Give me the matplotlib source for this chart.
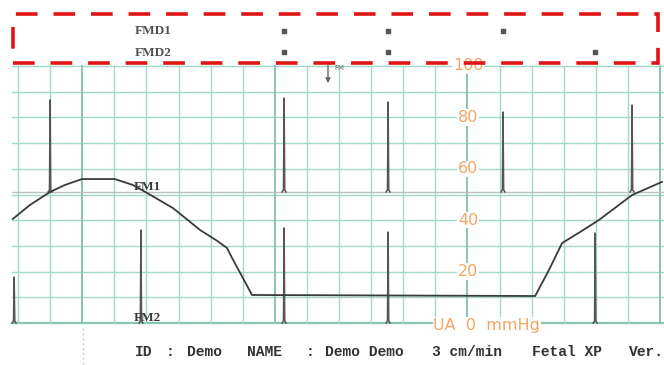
import numpy as np
import matplotlib
matplotlib.use("Agg")
import matplotlib.pyplot as plt
from matplotlib.patches import Rectangle

# =========================================================
# DATA (x in chart-grid units, y in UA mmHg)
# =========================================================
ua_x = [-0.16, 0.37, 1.0, 1.46, 1.99, 3.02, 3.58, 4.02, 4.83, 5.67, 6.2, 6.51, 6.67,
        6.92, 7.29, 16.11, 16.54, 16.95, 17.51, 18.1, 19.13, 20.06]
ua_y = [40.5, 45.9, 51.0, 53.7, 56.0, 56.0, 53.7, 50.6, 44.7, 36.2, 32.0, 29.2, 25.3,
        19.5, 10.9, 10.5, 20.6, 31.1, 35.4, 40.1, 49.8, 54.9]

fm1_x = [1.0, 8.29, 11.53, 15.11, 19.13]
fm1_top = [86.8, 87.5, 86.0, 82.1, 84.8]
fm1_base = 51.0

fm2_x = [-0.12, 3.83, 8.29, 11.53, 17.98]
fm2_top = [17.9, 36.2, 37.0, 35.4, 35.0]
fm2_base = 0.0

fmd1_x = [8.29, 11.53, 15.11]
fmd2_x = [8.29, 11.53, 17.98]

ua_ticks = [100, 80, 60, 40, 20]
footer = [("ID", 135), (":", 166), ("Demo", 187), ("NAME", 247), (":", 306),
          ("Demo Demo", 325), ("3 cm/min", 432), ("Fetal XP", 532), ("Ver.", 629)]

W, H = 664, 365
GRID = "#a3d8c9"
GRID_MAJOR = "#86c6b3"
ORANGE = "#f2a765"
INK = "#3a3a3a"

fig = plt.figure(figsize=(W / 100, H / 100), dpi=100)
fig.patch.set_facecolor("white")

xlo, xhi = (12 - 18) / 32.1, (664 - 18) / 32.1

# ---------------------------------------------------------
# main trace area
# ---------------------------------------------------------
ax = fig.add_axes([12 / W, (H - 323) / H, 652 / W, 257 / H])
ax.set_xlim(xlo, xhi)
ax.set_ylim(0, 100)
ax.axis("off")

for v in range(0, 101, 10):
    major = v == 0
    ax.plot([xlo, xhi], [v, v], color=GRID_MAJOR if major else GRID,
            lw=1.6 if major else 1.0, clip_on=False, zorder=1)
for k in range(0, 21):
    major = k % 6 == 2
    ax.plot([k, k], [0, 100], color=GRID_MAJOR if major else GRID,
            lw=1.4 if major else 1.0, clip_on=False, zorder=1)

# FM1 baseline + spikes
ax.plot([xlo, xhi], [fm1_base, fm1_base], color="#b9c2bd", lw=1.0, zorder=2)
for x, t in zip(fm1_x, fm1_top):
    ax.plot([x - 0.06, x - 0.02, x, x + 0.02, x + 0.06],
            [fm1_base, fm1_base + 0.8, t, fm1_base + 0.8, fm1_base],
            color="#555555", lw=1.1, clip_on=False, zorder=3)

# FM2 spikes
for x, t in zip(fm2_x, fm2_top):
    ax.plot([x - 0.06, x - 0.02, x, x + 0.02, x + 0.06],
            [fm2_base, fm2_base + 0.8, t, fm2_base + 0.8, fm2_base],
            color="#555555", lw=1.1, clip_on=False, zorder=3)

# UA curve
ax.plot(ua_x, ua_y, color=INK, lw=1.3, clip_on=False, zorder=4)

# UA scale labels
for v in ua_ticks:
    ax.text(14.02, v, str(v), color=ORANGE, fontsize=11.5, ha="center", va="center",
            zorder=5, bbox=dict(fc="white", ec="none", pad=0.5))
ax.text(14.6, -0.8, "UA  0  mmHg", color=ORANGE, fontsize=11.5, ha="center", va="center",
        zorder=5, bbox=dict(fc="white", ec="none", pad=0.3))

ax.text(3.6, 53.0, "FM1", fontsize=9.5, family="Liberation Serif", weight="bold",
        color=INK, ha="left", va="center", zorder=5)
ax.text(3.6, 2.0, "FM2", fontsize=9.5, family="Liberation Serif", weight="bold",
        color=INK, ha="left", va="center", zorder=5)

# ---------------------------------------------------------
# FMD strip on top
# ---------------------------------------------------------
top = fig.add_axes([12 / W, (H - 63) / H, 652 / W, 49 / H])
top.set_xlim(xlo, xhi)
top.set_ylim(0, 1)
top.axis("off")
top.add_patch(Rectangle((1 / 652, 0), 645 / 652, 1, transform=top.transAxes,
                        fill=False, ec="#e01414", lw=2.6,
                        linestyle=(0, (6.0, 4.4)), clip_on=False))
top.scatter(fmd1_x, [0.65] * len(fmd1_x), marker="s", s=6, color="#555555")
top.scatter(fmd2_x, [0.22] * len(fmd2_x), marker="s", s=6, color="#555555")
top.text(3.65, 0.65, "FMD1", fontsize=9.5, family="Liberation Serif", weight="bold",
         color="#505050", ha="left", va="center")
top.text(3.65, 0.2, "FMD2", fontsize=9.5, family="Liberation Serif", weight="bold",
         color="#505050", ha="left", va="center")

# ---------------------------------------------------------
# overlay in pixel coords: FM mark, footer
# ---------------------------------------------------------
ov = fig.add_axes([0, 0, 1, 1])
ov.set_xlim(0, W)
ov.set_ylim(H, 0)
ov.axis("off")
ov.patch.set_alpha(0)

ov.annotate("", xy=(328, 86), xytext=(328, 62),
            arrowprops=dict(arrowstyle="-|>", color="#666666", lw=1.0,
                            mutation_scale=7))
ov.text(334, 68, "FM", fontsize=5, color="#666666", ha="left", va="center")

ov.plot([83, 83], [328, 365], color="#c8c8c8", lw=1.0, ls=(0, (1.5, 2)))

for word, px in footer:
    ov.text(px, 352, word, fontsize=10.5, family="Liberation Mono", weight="bold",
            color="#333333", ha="left", va="center")

fig.savefig("out.png", dpi=100, facecolor="white")
